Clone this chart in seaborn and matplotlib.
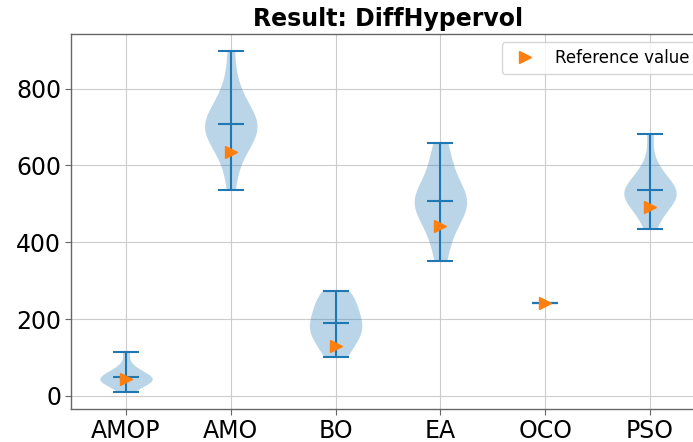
import numpy as np
import pandas as pd
import matplotlib
matplotlib.use("Agg")
import matplotlib.pyplot as plt
import seaborn as sns

# Algorithms compared and their DiffHypervol results per run
categories = ["AMOP", "AMO", "BO", "EA", "OCO", "PSO"]
amop_runs = [10, 25, 32, 38, 40, 42, 45, 48, 52, 58, 65, 78, 115]
amo_runs = [536, 610, 645, 670, 685, 695, 700, 705, 712, 722, 738, 775, 805, 898]
bo_runs = [100, 110, 140, 150, 155, 170, 178, 190, 195, 210, 225, 232, 255, 262, 273]
ea_runs = [351, 400, 440, 465, 480, 495, 505, 512, 520, 530, 545, 591, 620, 658]
oco_runs = [241]
pso_runs = [435, 470, 490, 505, 515, 522, 528, 535, 532, 540, 560, 575, 600, 683]
reference_values = [45, 636, 130, 442, 241, 493]

runs = [amop_runs, amo_runs, bo_runs, ea_runs, oco_runs, pso_runs]

df = pd.DataFrame({
    "algorithm": np.repeat(categories, [len(r) for r in runs]),
    "value": np.concatenate(runs),
})

sns.set_style("whitegrid", {
    "axes.edgecolor": "0.4",
    "grid.color": "0.8",
    "xtick.bottom": True,
    "ytick.left": True,
    "text.color": "black",
    "xtick.color": "0.4",
    "ytick.color": "0.4",
})
plt.rcParams["font.family"] = ["DejaVu Sans"]

fig = plt.figure(figsize=(6.93, 4.42), dpi=100)
ax = fig.add_axes([71 / 693, 1 - 409 / 442, 634 / 693, 375 / 442])

blue = "#1f77b4"
orange = "#ff7f0e"

# violin bodies (groups with a spread of values)
spread = df.groupby("algorithm")["value"].transform("nunique") > 1
sns.violinplot(data=df[spread], x="algorithm", y="value", order=categories,
               inner=None, cut=0, width=0.5, density_norm="width",
               color=blue, saturation=1, linewidth=0, alpha=0.3, ax=ax)

# extrema and mean bars
pos = np.arange(len(categories))
mins = np.array([min(r) for r in runs])
maxs = np.array([max(r) for r in runs])
means = np.array([np.mean(r) for r in runs])
half = 0.125
ax.vlines(pos, mins, maxs, color=blue, lw=1.5)
for vals in (mins, maxs, means):
    ax.hlines(vals, pos - half, pos + half, color=blue, lw=1.5)

ax.plot(pos, reference_values, linestyle="none", marker=">", color=orange,
        markersize=9, label="Reference value", zorder=5)

ax.set_xlim(-0.525, 5.525)
ax.xaxis.grid(True)
ax.set_xlabel("")
ax.set_ylabel("")
ax.set_yticks([0, 200, 400, 600, 800])
ax.tick_params(axis="both", labelsize=17, length=4, pad=3, labelcolor="black")
ax.set_title("Result: DiffHypervol", fontsize=17, fontweight="bold", color="black")
for side in ("left", "bottom", "top", "right"):
    ax.spines[side].set_visible(True)
    ax.spines[side].set_linewidth(1.0)

leg = ax.legend(loc="upper right", fontsize=12, numpoints=1, frameon=True,
                fancybox=True, framealpha=0.8, edgecolor="0.8")
for t in leg.get_texts():
    t.set_color("black")

fig.savefig("out.png", dpi=100)
